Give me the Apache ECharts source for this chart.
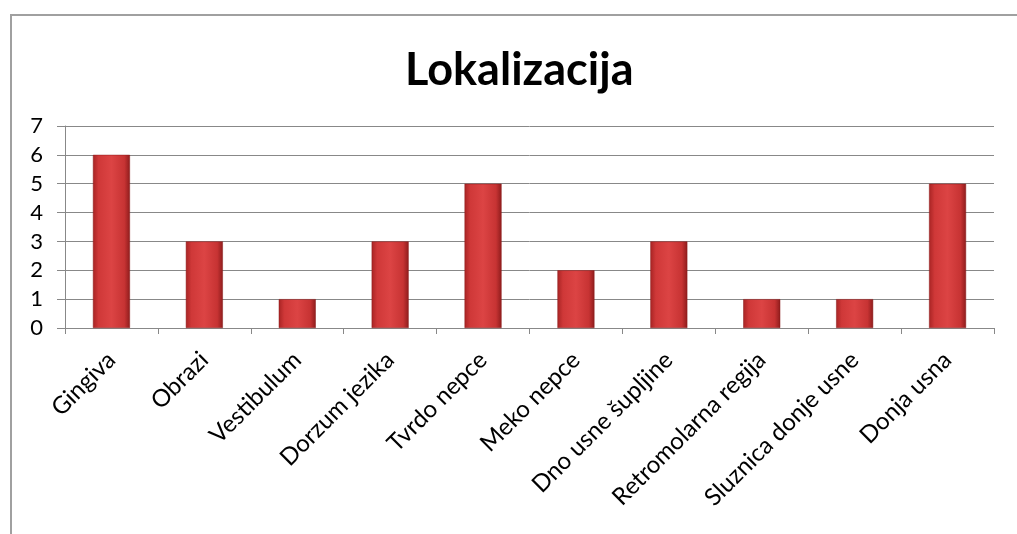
<!DOCTYPE html>
<html>
<head>
<meta charset="utf-8">
<script src="https://cdn.jsdelivr.net/npm/echarts@6/dist/echarts.min.js"></script>
<style>
  html, body { margin: 0; padding: 0; background: #fff; }
  #frame { position: absolute; left: 10px; top: 14px; width: 1020px; height: 540px;
           border-left: 2px solid #a0a0a0; border-top: 2px solid #a0a0a0; }
  #chart { position: absolute; left: 0; top: 0; width: 1017px; height: 534px; }
</style>
</head>
<body>
<div id="frame"></div>
<div id="chart"></div>
<script>
const categories = ['Gingiva', 'Obrazi', 'Vestibulum', 'Dorzum jezika', 'Tvrdo nepce',
  'Meko nepce', 'Dno usne šupljine', 'Retromolarna regija', 'Sluznica donje usne', 'Donja usna']
const counts = [6, 3, 1, 3, 5, 2, 3, 1, 1, 5]
const yTicks = [0, 1, 2, 3, 4, 5, 6, 7]

const chart = echarts.init(document.getElementById('chart'))

const barColor = new echarts.graphic.LinearGradient(0, 0, 1, 0, [
  { offset: 0, color: '#a82424' },
  { offset: 0.15, color: '#cf3838' },
  { offset: 0.5, color: '#dc4444' },
  { offset: 0.85, color: '#c73333' },
  { offset: 1, color: '#8e1c1c' }
])

chart.setOption({
  animation: false,
  title: {
    text: 'Lokalizacija',
    left: 400,
    top: 43,
    padding: 5,
    textStyle: { fontFamily: 'Lato', fontWeight: 'bold', fontSize: 45, color: '#000' }
  },
  grid: { left: 65, right: 23, top: 126, bottom: 206, outerBoundsMode: 'none' },
  xAxis: {
    type: 'category',
    data: categories,
    axisLine: { lineStyle: { color: '#888', width: 1 } },
    axisTick: { show: true, length: 6, lineStyle: { color: '#888' } },
    axisLabel: {
      rotate: 45, interval: 0, margin: 28,
      fontFamily: 'Lato', fontSize: 24, color: '#000'
    }
  },
  yAxis: {
    type: 'value',
    min: yTicks[0],
    max: yTicks[yTicks.length - 1],
    interval: 1,
    axisLine: { show: true, lineStyle: { color: '#888' } },
    axisTick: { show: true, length: 8, lineStyle: { color: '#888' } },
    splitLine: { lineStyle: { color: '#888', width: 1 } },
    axisLabel: { margin: 22, fontFamily: 'Lato', fontSize: 22, color: '#000' }
  },
  series: [{
    type: 'bar',
    data: counts,
    barWidth: 37,
    itemStyle: { color: barColor, borderColor: '#8a1a1a', borderWidth: 0.5 }
  }]
})
</script>
</body>
</html>
